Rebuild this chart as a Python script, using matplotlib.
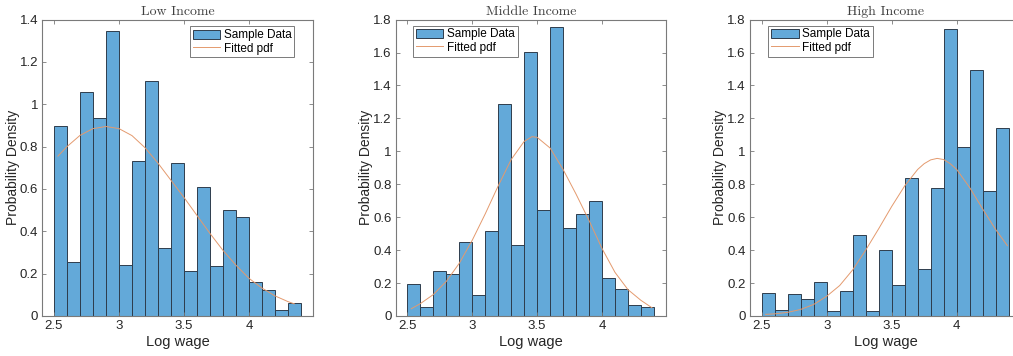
import numpy as np
import matplotlib
matplotlib.use('Agg')
import matplotlib.pyplot as plt
from matplotlib.ticker import FuncFormatter

## bin edges shared by all three histograms (2.5 to 4.4, width 0.1)
bin_edges = [2.5, 2.6, 2.7, 2.8, 2.9, 3.0, 3.1, 3.2, 3.3, 3.4, 3.5,
             3.6, 3.7, 3.8, 3.9, 4.0, 4.1, 4.2, 4.3, 4.4]

## bar heights (probability density)
low_density = [0.899, 0.254, 1.057, 0.934, 1.345, 0.240, 0.734, 1.112, 0.320, 0.722,
               0.211, 0.611, 0.235, 0.500, 0.466, 0.162, 0.121, 0.027, 0.063]
mid_density = [0.195, 0.057, 0.276, 0.257, 0.452, 0.130, 0.519, 1.285, 0.432, 1.606,
               0.645, 1.753, 0.535, 0.620, 0.699, 0.229, 0.166, 0.069, 0.057]
high_density = [0.140, 0.039, 0.134, 0.103, 0.207, 0.032, 0.154, 0.493, 0.032, 0.403,
                0.191, 0.839, 0.288, 0.780, 1.745, 1.026, 1.492, 0.762, 1.139]

## fitted pdf curves
low_fit_x = [2.53, 2.6, 2.7, 2.8, 2.9, 3.0, 3.1, 3.2, 3.3, 3.4, 3.5, 3.6, 3.7, 3.8,
             3.9, 4.0, 4.1, 4.2, 4.3, 4.35]
low_fit_y = [0.755, 0.800, 0.853, 0.885, 0.895, 0.885, 0.852, 0.795, 0.722, 0.641,
             0.560, 0.475, 0.390, 0.310, 0.240, 0.178, 0.132, 0.095, 0.068, 0.057]

mid_fit_x = [2.53, 2.6, 2.7, 2.8, 2.9, 3.0, 3.1, 3.2, 3.3, 3.4, 3.46, 3.5, 3.6, 3.7,
             3.8, 3.9, 4.0, 4.1, 4.2, 4.3, 4.385]
mid_fit_y = [0.044, 0.075, 0.130, 0.210, 0.320, 0.460, 0.620, 0.790, 0.950, 1.060,
             1.089, 1.085, 1.020, 0.890, 0.740, 0.580, 0.410, 0.265, 0.160, 0.095, 0.050]

high_fit_x = [2.53, 2.6, 2.7, 2.8, 2.9, 3.0, 3.1, 3.2, 3.3, 3.4, 3.5, 3.6, 3.7, 3.75,
              3.8, 3.85, 3.9, 3.95, 4.0, 4.1, 4.2, 4.3, 4.39]
high_fit_y = [0.010, 0.013, 0.022, 0.040, 0.070, 0.120, 0.185, 0.280, 0.400, 0.530,
              0.665, 0.790, 0.890, 0.925, 0.948, 0.957, 0.950, 0.925, 0.890, 0.780,
              0.650, 0.525, 0.427]

titles = ['Low Income', 'Middle Income', 'High Income']
y_tops = [1.4, 1.8, 1.8]

BAR_COLOR = '#63a9d9'
EDGE_COLOR = '#2e3d4d'
FIT_COLOR = '#e49a6e'
AXIS_COLOR = '#7a7a7a'
TEXT_COLOR = '#262626'
SANS = 'Liberation Sans'


def matlab_fmt(v, pos):
    return '%g' % round(v, 2)


def draw_panel(ax, density, fit_x, fit_y, title, y_top, legend_loc, legend_anchor):
    edges = np.array(bin_edges)
    bars = ax.bar(edges[:-1], density, width=np.diff(edges), align='edge',
                  color=BAR_COLOR, edgecolor=EDGE_COLOR, linewidth=0.7)
    line, = ax.plot(fit_x, fit_y, color=FIT_COLOR, linewidth=0.7)

    ax.set_xlim(2.41, 4.495)
    ax.set_ylim(0, y_top)
    ax.set_xticks([2.5, 3, 3.5, 4])
    ax.set_yticks(np.arange(0, y_top + 0.01, 0.2))
    ax.xaxis.set_major_formatter(FuncFormatter(matlab_fmt))
    ax.yaxis.set_major_formatter(FuncFormatter(matlab_fmt))
    ax.tick_params(direction='in', length=3, width=0.6, color=AXIS_COLOR,
                   top=True, right=True, labelsize=9.5, labelcolor=TEXT_COLOR, pad=3)
    for lab in ax.get_xticklabels() + ax.get_yticklabels():
        lab.set_fontfamily(SANS)
    for sp in ax.spines.values():
        sp.set_color(AXIS_COLOR)
        sp.set_linewidth(0.8)

    ax.set_xlabel('Log wage', fontsize=10.5, fontfamily=SANS, color=TEXT_COLOR, labelpad=2)
    ax.set_ylabel('Probability Density', fontsize=10, fontfamily=SANS, color=TEXT_COLOR, labelpad=0)
    ax.set_title(title, fontsize=10, fontfamily='cmr10', color='#404040', pad=3)

    leg = ax.legend([bars, line], ['Sample Data', 'Fitted pdf'],
                    loc=legend_loc, bbox_to_anchor=legend_anchor, fancybox=False,
                    edgecolor=AXIS_COLOR, framealpha=1, prop={'family': SANS, 'size': 8.5},
                    handlelength=2.3, handleheight=0.8, handletextpad=0.3,
                    borderpad=0.25, labelspacing=0.1, borderaxespad=0)
    leg.get_frame().set_linewidth(0.7)


fig = plt.figure(figsize=(10.13, 3.56), dpi=100)

## axes positions matched to the reference (third panel runs past the right edge)
bottom, height = 0.1124, 0.8326
ax1 = fig.add_axes([0.04176, bottom, 0.2675, height])
ax2 = fig.add_axes([0.3906, bottom, 0.2671, height])
ax3 = fig.add_axes([0.7404, bottom, 0.2675, height])

draw_panel(ax1, low_density, low_fit_x, low_fit_y, titles[0], y_tops[0], 'upper right', (0.93, 0.977))
draw_panel(ax2, mid_density, mid_fit_x, mid_fit_y, titles[1], y_tops[1], 'upper left', (0.065, 0.98))
draw_panel(ax3, high_density, high_fit_x, high_fit_y, titles[2], y_tops[2], 'upper left', (0.068, 0.98))

fig.savefig('out.png', dpi=100)
